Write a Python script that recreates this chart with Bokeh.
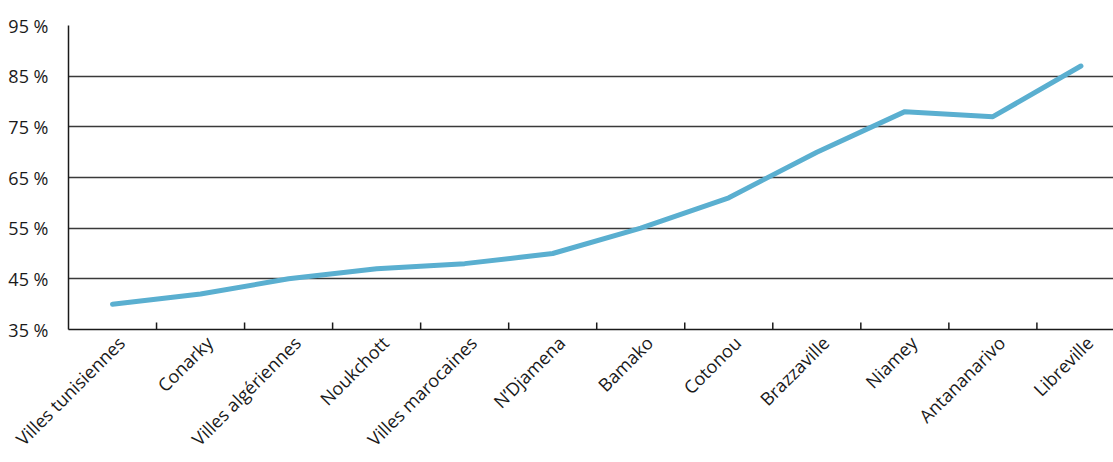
import math

from bokeh.embed import file_html
from bokeh.models import FixedTicker, LinearAxis, PrintfTickFormatter, Range1d
from bokeh.plotting import figure
from bokeh.resources import INLINE

# Share per city (%)
cities = [
    "Villes tunisiennes", "Conarky", "Villes algériennes", "Noukchott",
    "Villes marocaines", "N’Djamena", "Bamako", "Cotonou", "Brazzaville",
    "Niamey", "Antananarivo", "Libreville",
]
shares = [40, 42, 45, 47, 48, 50, 55, 61, 70, 78, 77, 87]
y_ticks = [35, 45, 55, 65, 75, 85, 95]

FONT = "Open Sans"
INK = "#1a1a1a"
GRID = "#3a3a3a"

n = len(cities)
centers = [i + 0.5 for i in range(n)]
bounds = list(range(1, n))
label_shift = 0.1       # names sit slightly right of the category centre
tick_len = 1.4          # length of the inward category ticks, in % units

p = figure(
    width=1113, height=462,
    output_backend="svg", toolbar_location=None,
    x_range=Range1d(0, n - 0.13), y_range=Range1d(y_ticks[0], y_ticks[-1]),
    x_axis_location=None,
    min_border_left=68, min_border_right=0, min_border_top=25,
    min_border_bottom=132,
    outline_line_color=None,
)

# y axis with percent labels, no tick marks
p.yaxis.ticker = FixedTicker(ticks=y_ticks)
p.yaxis.formatter = PrintfTickFormatter(format="%d %%")
p.yaxis.major_tick_line_color = None
p.yaxis.minor_tick_line_color = None
p.yaxis.axis_line_color = INK
p.yaxis.axis_line_width = 1.5
p.yaxis.major_label_text_font = FONT
p.yaxis.major_label_text_font_size = "18px"
p.yaxis.major_label_text_color = INK
p.yaxis.major_label_standoff = 14

p.ygrid.grid_line_color = GRID
p.ygrid.grid_line_width = 1.3
p.xgrid.visible = False

# rotated city names; the axis line is the chart baseline
label_axis = LinearAxis(
    ticker=FixedTicker(ticks=[c + label_shift for c in centers]),
    major_label_overrides={c + label_shift: name for c, name in zip(centers, cities)},
    major_label_orientation=math.pi / 4,
    major_label_text_font=FONT,
    major_label_text_font_size="18px",
    major_label_text_color=INK,
    major_label_standoff=4,
    major_tick_line_color=None,
    minor_tick_line_color=None,
    axis_line_color=INK,
    axis_line_width=1.5,
)
p.add_layout(label_axis, "below")

# small inward ticks between categories
p.segment(x0=bounds, y0=[y_ticks[0]] * len(bounds),
          x1=bounds, y1=[y_ticks[0] + tick_len] * len(bounds),
          line_color=INK, line_width=1.5)

p.line(centers, shares, line_width=5, line_color="#5aafd0",
       line_join="round", line_cap="round")

open("out.html", "w").write(file_html(p, INLINE))
